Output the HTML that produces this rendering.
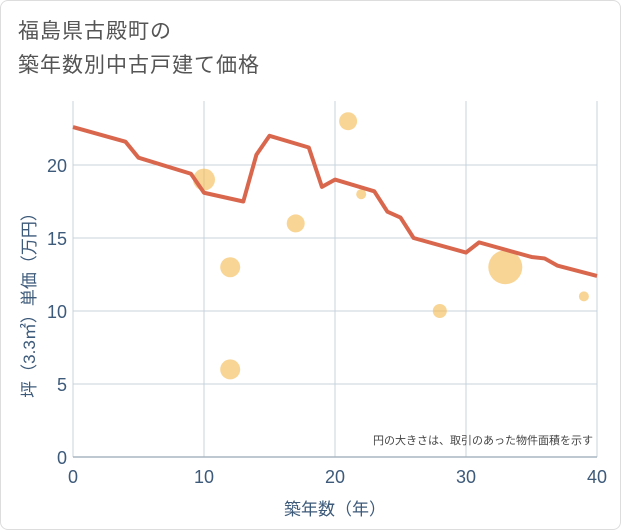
<!DOCTYPE html>
<html><head><meta charset="utf-8"><style>
body{margin:0;background:#fff;font-family:"Liberation Sans","Noto Sans CJK JP",sans-serif}
#wrap{position:relative;width:619px;height:528px;border:1px solid #ddd;border-radius:8px;overflow:hidden;background:#fff}
#title{position:absolute;left:17px;top:14px;font-size:21px;line-height:34px;color:#555;letter-spacing:1px}
</style></head><body>
<div id="wrap">
<div id="title">福島県古殿町の<br>築年数別中古戸建て価格</div>
<svg id="chart" width="621" height="530" style="position:absolute;left:0;top:0"></svg>
</div>
<script>
const xTicks=[0,10,20,30,40];
const yTicks=[0,5,10,15,20];
const lineX=[0,4,5,9,10,13,14,15,18,19,20,23,24,25,26,30,31,35,36,37,40];
const lineY=[22.6,21.6,20.5,19.4,18.1,17.5,20.7,22,21.2,18.5,19,18.2,16.8,16.4,15,14,14.7,13.7,13.6,13.1,12.4];
const bubX=[10,12,12,17,21,22,28,33,39];
const bubY=[19,13,6,16,23,18,10,13,11];
const bubR=[11,10,10,9,9,5,7,17,5];
const NS="http://www.w3.org/2000/svg";
const svg=document.getElementById('chart');
const L=72,R=596,T=100,B=456;
const TXT='#3d5a7a';
const sx=v=>L+(R-L)*v/40;
const sy=v=>B-(B-164)*v/20;
function mk(t,a,p){const e=document.createElementNS(NS,t);for(const k in a)e.setAttribute(k,a[k]);(p||svg).appendChild(e);return e;}
const bg=mk('rect',{x:L,y:T,width:R-L,height:B-T,fill:'#fff'});


xTicks.forEach(v=>{
 const g=mk('line',{x1:sx(v),x2:sx(v),y1:T,y2:B,stroke:'#c8d3dc','stroke-width':1});
 
 
 const t=mk('text',{x:sx(v),y:482,'text-anchor':'middle','font-size':18,fill:TXT});t.textContent=v;
 
 
});
yTicks.forEach(v=>{
 const g=mk('line',{x1:L,x2:R,y1:sy(v),y2:sy(v),stroke:'#c8d3dc','stroke-width':1});
 
 
 const t=mk('text',{x:66,y:sy(v)+7,'text-anchor':'end','font-size':18,fill:TXT});t.textContent=v;
 
 
});
const ax=mk('line',{x1:L,x2:R,y1:B,y2:B,stroke:'#a9b5c0','stroke-width':1.5});


bubX.forEach((v,i)=>{
 const c=mk('circle',{cx:sx(v),cy:sy(bubY[i]),r:bubR[i],fill:'#f5b94e','fill-opacity':0.6});
 
 
});
const pl=mk('polyline',{points:lineX.map((v,i)=>sx(v)+','+sy(lineY[i])).join(' '),fill:'none',stroke:'#d9674e','stroke-width':4,'stroke-linejoin':'round'});


const note=mk('text',{x:592,y:443,'text-anchor':'end','font-size':11,fill:'#444'});note.textContent='円の大きさは、取引のあった物件面積を示す';


const xt=mk('text',{x:334,y:514,'text-anchor':'middle','font-size':17,fill:TXT});xt.textContent='築年数（年）';


const yt=mk('text',{x:0,y:0,'text-anchor':'middle','font-size':17,fill:TXT,transform:'translate(34,300) rotate(-90)'});yt.textContent='坪（3.3㎡）単価（万円）';


</script>
</body></html>
